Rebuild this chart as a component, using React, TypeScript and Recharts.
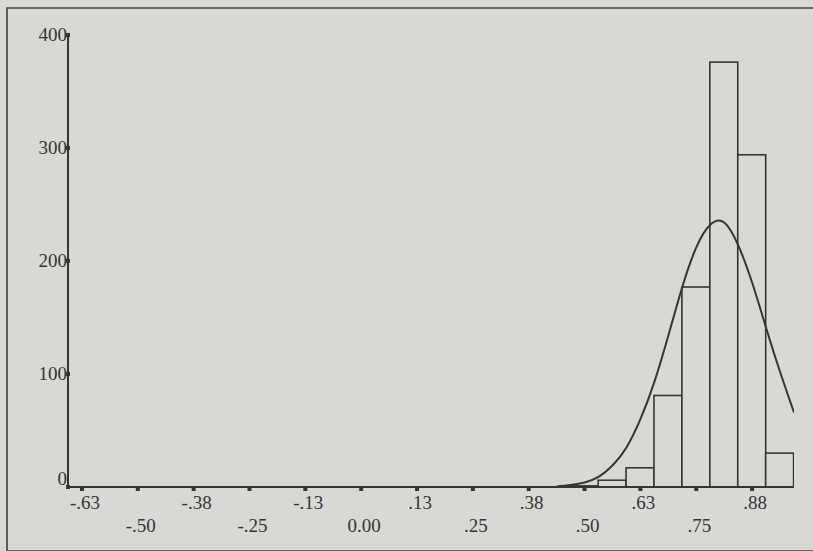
import React from 'react';
import {
  ComposedChart,
  Bar,
  Line,
  XAxis,
  YAxis,
} from 'recharts';

// histogram bins (bin centres, width .0625) and counts
const binCenters = [0.5, 0.5625, 0.625, 0.6875, 0.75, 0.8125, 0.875, 0.9375];
const binCounts = [1, 6, 17, 81, 177, 376, 294, 30];

// fitted normal curve, read point by point
const curveX = [
  0.4375, 0.46875, 0.5, 0.53125, 0.5625, 0.59375, 0.625, 0.65625, 0.6875,
  0.71875, 0.75, 0.78125, 0.8125, 0.84375, 0.875, 0.90625, 0.9375, 0.96875,
];
const curveY = [
  0.5, 1.8, 4, 9, 19, 35, 60, 93, 134, 177, 212, 232, 234, 214, 181, 141, 102, 66,
];

const xTicks = [
  -0.625, -0.5, -0.375, -0.25, -0.125, 0, 0.125, 0.25, 0.375, 0.5, 0.625, 0.75, 0.875,
];
const xTickLabels = [
  '-.63', '-.50', '-.38', '-.25', '-.13', '0.00', '.13', '.25', '.38', '.50', '.63', '.75', '.88',
];
const yTicks = [0, 100, 200, 300, 400];

const X_DOMAIN: [number, number] = [-0.65625, 0.96875];
const BIN_WIDTH = 0.0625;
const W = 813;
const H = 551;
const MARGIN = { top: 35, right: 19, bottom: 0, left: 8 };
const Y_AXIS_W = 60;
const X_AXIS_H = 64;
const PLOT_W = W - MARGIN.left - MARGIN.right - Y_AXIS_W;

const BG = '#d8d9d4';
const INK = '#353535';
const FONT = '"Liberation Serif", "DejaVu Serif", serif';

const barData = binCenters.map((x, i) => ({ x, count: binCounts[i] }));
const curveData = curveX.map((x, i) => ({ x, fit: curveY[i] }));

// full bin width in px (recharts floors the bar size, so the shape widens it back)
const binPx = (PLOT_W / (X_DOMAIN[1] - X_DOMAIN[0])) * BIN_WIDTH;

const BinShape = (props: any) => {
  const { x, y, width, height } = props;
  if (!height || height <= 0) return null;
  const cx = x + width / 2;
  return (
    <rect
      x={cx - binPx / 2}
      y={y}
      width={binPx}
      height={height}
      fill={BG}
      stroke={INK}
      strokeWidth={1.6}
    />
  );
};

const XTick = (props: any) => {
  const { x, y, payload } = props;
  const idx = xTicks.indexOf(payload.value);
  const label = idx >= 0 ? xTickLabels[idx] : '';
  const row = idx % 2 === 0 ? 0 : 1;
  return (
    <g>
      <rect x={x - 2} y={y + 1} width={4} height={3} fill={INK} />
      <text
        x={x + 3}
        y={y + 22 + row * 23}
        textAnchor="middle"
        fontFamily={FONT}
        fontSize={19}
        fill={INK}
      >
        {label}
      </text>
    </g>
  );
};

const YTick = (props: any) => {
  const { x, y, payload } = props;
  const shift = payload.value === 0 ? -8 : 0;
  return (
    <g>
      <rect x={x - 2} y={y - 2} width={4} height={4} fill={INK} />
      <text
        x={x - 1}
        y={y + 6 + shift}
        textAnchor="end"
        fontFamily={FONT}
        fontSize={19}
        fill={INK}
      >
        {payload.value}
      </text>
    </g>
  );
};

export default function App() {
  return (
    <div
      style={{
        position: 'absolute',
        left: 0,
        top: 0,
        width: W,
        height: H,
        background: BG,
        overflow: 'hidden',
      }}
    >
      {/* scanned page frame */}
      <div
        style={{
          position: 'absolute',
          left: 6,
          top: 7,
          width: W,
          height: 541,
          borderTop: '2px solid #6a6a66',
          borderLeft: '2px solid #5a5a56',
          borderBottom: '2px solid #6a6a66',
        }}
      />
      <div style={{ position: 'absolute', left: 0, top: 0 }}>
        <ComposedChart width={W} height={H} data={barData} margin={MARGIN} barGap={0} barCategoryGap={0}>
          <XAxis
            dataKey="x"
            type="number"
            domain={X_DOMAIN}
            allowDataOverflow
            ticks={xTicks}
            interval={0}
            height={X_AXIS_H}
            tickSize={0}
            tickMargin={0}
            tickLine={false}
            tick={<XTick />}
            axisLine={{ stroke: INK, strokeWidth: 2 }}
          />
          {/* separate hidden axis for the curve so its points don't shrink the bar band */}
          <XAxis
            xAxisId="curve"
            dataKey="x"
            type="number"
            domain={X_DOMAIN}
            allowDataOverflow
            hide
          />
          <XAxis
            xAxisId="top"
            orientation="top"
            type="number"
            domain={X_DOMAIN}
            allowDataOverflow
            height={0}
            tick={false}
            tickLine={false}
            axisLine={{ stroke: INK, strokeWidth: 2 }}
          />
          <YAxis
            type="number"
            domain={[0, 400]}
            ticks={yTicks}
            interval={0}
            width={Y_AXIS_W}
            tickSize={0}
            tickMargin={0}
            tickLine={false}
            tick={<YTick />}
            axisLine={{ stroke: INK, strokeWidth: 2 }}
          />
          <YAxis
            yAxisId="right"
            orientation="right"
            type="number"
            domain={[0, 400]}
            width={0}
            tick={false}
            tickLine={false}
            axisLine={{ stroke: INK, strokeWidth: 2 }}
          />
          <Bar
            dataKey="count"
            fill={BG}
            stroke={INK}
            barSize={binPx}
            shape={<BinShape />}
            isAnimationActive={false}
          />
          <Line
            xAxisId="curve"
            data={curveData}
            dataKey="fit"
            type="natural"
            stroke={INK}
            strokeWidth={2}
            dot={false}
            isAnimationActive={false}
          />
        </ComposedChart>
      </div>
    </div>
  );
}
